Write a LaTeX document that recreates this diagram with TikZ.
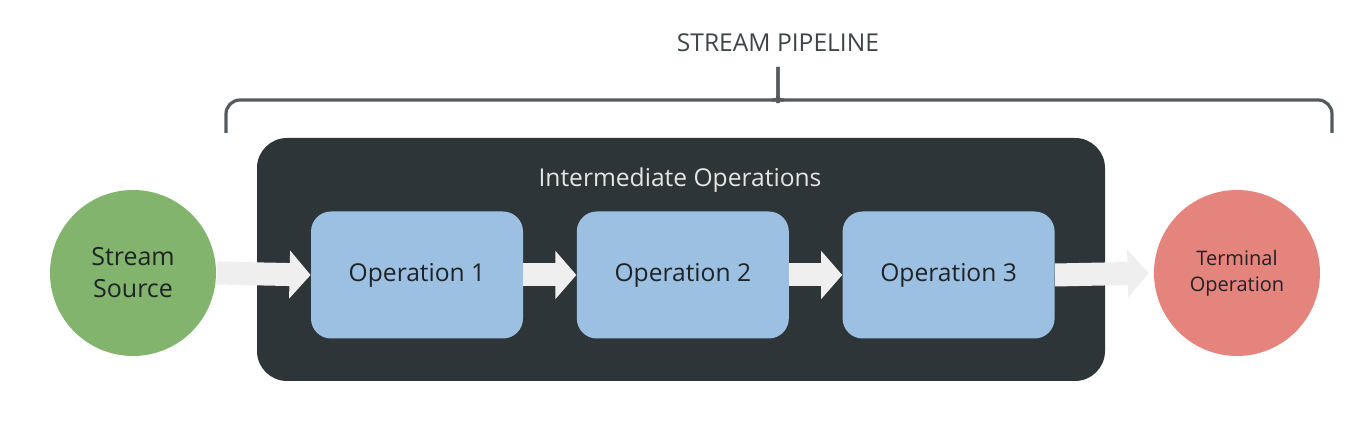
\documentclass[tikz,border=0pt]{standalone}
\usepackage{fontspec}
\setmainfont{Open Sans}
\usepackage{tikz}
\usetikzlibrary{arrows.meta,positioning,calc}
\definecolor{csrc}{HTML}{83B46E}
\definecolor{cterm}{HTML}{E4847C}
\definecolor{cpipe}{HTML}{2E3539}
\definecolor{cop}{HTML}{9CC0E2}
\definecolor{cflow}{HTML}{EFEFEF}
\definecolor{cbrace}{HTML}{555A5E}
\definecolor{ctext}{HTML}{1E2326}
\tikzset{
  endn/.style={circle, minimum size=83pt, inner sep=0pt, align=center, text=ctext},
  srcn/.style={endn, fill=csrc, font=\fontsize{12.5}{16}\selectfont},
  termn/.style={endn, fill=cterm, font=\fontsize{10}{13}\selectfont},
  opn/.style={rounded corners=10pt, fill=cop, minimum width=106pt, minimum height=63.5pt, inner sep=0pt, text=ctext, font=\fontsize{12.3}{14}\selectfont},
  pipen/.style={rounded corners=15pt, fill=cpipe, minimum width=424pt, minimum height=121.5pt, inner sep=0pt},
  flow/.style={draw=cflow, line width=11.5pt, -{Triangle[length=10.5pt, width=23.5pt]}},
  lbl/.style={font=\fontsize{12.3}{14}\selectfont},
}
\begin{document}
\begin{tikzpicture}[x=0.5pt,y=0.5pt]
\useasboundingbox (0,0) rectangle (1362,422);
\node[pipen] (pipe) at (681,162.5) {};
\node[lbl, text=white!90!black] (inter) at (680,242) {Intermediate Operations};
\node[opn] (op1) at (417,147) {Operation 1};
\node[opn, right=26.5pt of op1] (op2) {Operation 2};
\node[opn, right=26.5pt of op2] (op3) {Operation 3};
\node[srcn] (src) at (133,149) {Stream\\Source};
\node[termn] (term) at (1237,149) {Terminal\\Operation};
\draw[flow] (src.east) -- (op1.west);
\foreach \a/\b in {op1/op2,op2/op3} \draw[flow] (\a.east) -- (\b.west);
\draw[flow, shorten >=2.5pt] (op3.east) -- (term.west);
% brace over the whole pipeline
\coordinate (bl) at (226,289);
\coordinate (br) at (1332,289);
\coordinate (btip) at (778,355);
\draw[cbrace, line width=1.6pt, rounded corners=7pt] (bl) |- ($(btip)+(-8,-33)$)
  to[out=0,in=-90] ($(btip)+(0,-22)$) -- (btip);
\draw[cbrace, line width=1.6pt, rounded corners=7pt] (br) |- ($(btip)+(8,-33)$)
  to[out=180,in=-90] ($(btip)+(0,-22)$) -- (btip);
\node[lbl, text=ctext!85] (title) at (778,379) {STREAM PIPELINE};
\end{tikzpicture}
\end{document}
